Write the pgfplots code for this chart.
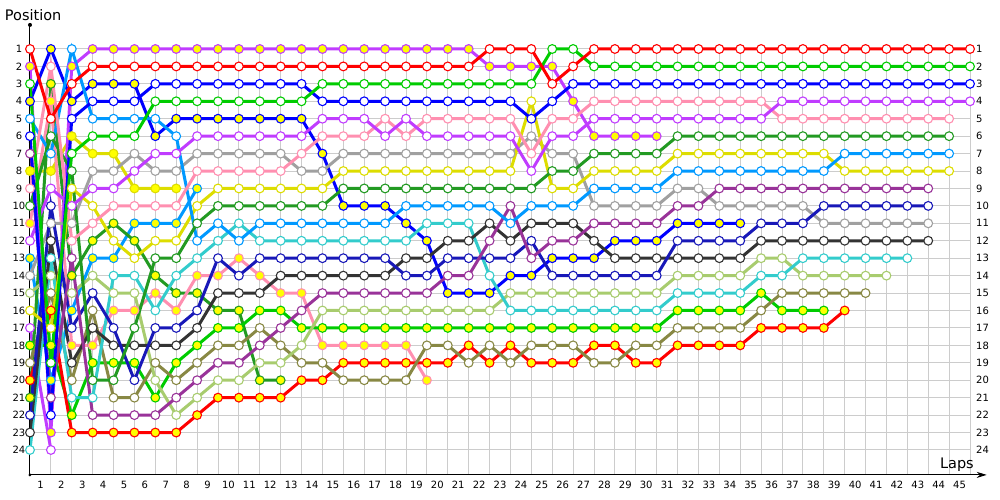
\documentclass[border=0pt]{standalone}
\usepackage{pgfplots}
\pgfplotsset{compat=1.18}
\usepackage{fontspec}
\setmainfont{DejaVu Sans}
\usetikzlibrary{arrows.meta}
\definecolor{cR}{HTML}{FF0000}
\definecolor{cG}{HTML}{00CC00}
\definecolor{cB}{HTML}{0000FF}
\definecolor{cV}{HTML}{C03CFF}
\definecolor{cPK}{HTML}{FF8FB0}
\definecolor{cDG}{HTML}{229A22}
\definecolor{cLB}{HTML}{0099FF}
\definecolor{cY}{HTML}{DDDD00}
\definecolor{cPU}{HTML}{993399}
\definecolor{cNV}{HTML}{1818B8}
\definecolor{cGR}{HTML}{A0A0A0}
\definecolor{cBK}{HTML}{333333}
\definecolor{cCY}{HTML}{33CCCC}
\definecolor{cLO}{HTML}{A8CC6E}
\definecolor{cOL}{HTML}{888844}
\definecolor{cYF}{HTML}{FFFF00}
\pgfplotsset{
 drv/.style={color=#1, line width=3pt, mark=*, mark size=4.4pt, mark options={line width=1.1pt, fill=white, solid}},
 drvy/.style={color=#1, line width=3pt, mark=*, mark size=4.4pt, mark options={line width=1.1pt, fill=cYF, solid}},
}
\begin{document}
\begin{tikzpicture}
\begin{axis}[scale only axis,
 width=940pt, height=425.9pt,
 xmin=0, xmax=45, ymin=1, ymax=25.43, y dir=reverse, clip=false,
 axis line style={draw=none}, tick style={draw=none},
 /pgf/number format/assume math mode=true,
 xtick={1,...,45}, ytick={1,...,24},
 grid=major, grid style={color=black!20, line width=1pt},
 xticklabel style={anchor=north, xshift=-10.44pt, yshift=-3pt, font=\fontsize{10}{12}\selectfont},
 yticklabel style={anchor=center, xshift=-11pt, font=\fontsize{10}{12}\selectfont},
]
\path (axis cs:-1.436,-1.81) rectangle (axis cs:46.436,26.867);
% retired early
\addplot[drv=cV] coordinates {(0,17)(1,24)};
\addplot[drvy=cY] coordinates {(0,8)(1,8)(2,6)(3,7)(4,7)(5,9)(6,9)(7,9)};
\addplot[drvy=cLB] coordinates {(0,13)(1,20)(2,16)(3,13)(4,13)(5,11)(6,11)(7,11)(8,9)};
\addplot[drvy=cDG] coordinates {(0,21)(1,3)(2,14)(3,12)(4,11)(5,12)(6,14)(7,15)(8,15)(9,16)(10,16)(11,20)(12,20)};
\addplot[drvy=cPK] coordinates {(0,11)(1,4)(2,18)(3,18)(4,16)(5,16)(6,15)(7,16)(8,14)(9,14)(10,13)(11,14)(12,15)(13,15)(14,18)(15,18)(16,18)(17,18)(18,18)(19,20)};
\addplot[drvy=cV] coordinates {(0,2)(1,23)(2,2)(3,1)(4,1)(5,1)(6,1)(7,1)(8,1)(9,1)(10,1)(11,1)(12,1)(13,1)(14,1)(15,1)(16,1)(17,1)(18,1)(19,1)(20,1)(21,1)(22,2)(23,2)(24,2)(25,2)(26,4)(27,6)(28,6)(29,6)(30,6)};
\addplot[drvy=cB] coordinates {(0,4)(1,1)(2,4)(3,3)(4,3)(5,3)(6,6)(7,5)(8,5)(9,5)(10,5)(11,5)(12,5)(13,5)(14,7)(15,10)(16,10)(17,10)(18,11)(19,12)(20,15)(21,15)(22,15)(23,14)(24,14)(25,13)(26,13)(27,13)(28,12)(29,12)(30,12)(31,11)(32,11)(33,11)(34,11)};
\addplot[drvy=cG] coordinates {(0,18)(1,18)(2,22)(3,19)(4,19)(5,19)(6,21)(7,19)(8,18)(9,17)(10,17)(11,16)(12,16)(13,17)(14,17)(15,17)(16,17)(17,17)(18,17)(19,17)(20,17)(21,17)(22,17)(23,17)(24,17)(25,17)(26,17)(27,17)(28,17)(29,17)(30,17)(31,16)(32,16)(33,16)(34,16)(35,15)(36,16)(37,16)(38,16)};
% finishers
\addplot[drvy=cR] coordinates {(0,20)(1,16)(2,23)(3,23)(4,23)(5,23)(6,23)(7,23)(8,22)(9,21)(10,21)(11,21)(12,21)(13,20)(14,20)(15,19)(16,19)(17,19)(18,19)(19,19)(20,19)(21,18)(22,19)(23,18)(24,19)(25,19)(26,19)(27,18)(28,18)(29,19)(30,19)(31,18)(32,18)(33,18)(34,18)(35,17)(36,17)(37,17)(38,17)(39,16)};
\addplot[drv=cOL] coordinates {(0,19)(1,15)(2,20)(3,16)(4,21)(5,21)(6,19)(7,20)(8,19)(9,18)(10,18)(11,17)(12,18)(13,19)(14,19)(15,20)(16,20)(17,20)(18,20)(19,18)(20,18)(21,19)(22,18)(23,19)(24,18)(25,18)(26,18)(27,19)(28,19)(29,18)(30,18)(31,17)(32,17)(33,17)(34,17)(35,16)(36,15)(37,15)(38,15)(39,15)(40,15)};
\addplot[drv=cLO] coordinates {(0,15)(1,14)(2,15)(3,14)(4,15)(5,15)(6,20)(7,22)(8,21)(9,20)(10,20)(11,19)(12,19)(13,18)(14,16)(15,16)(16,16)(17,16)(18,16)(19,16)(20,16)(21,16)(22,16)(23,15)(24,15)(25,15)(26,15)(27,15)(28,15)(29,15)(30,15)(31,14)(32,14)(33,14)(34,14)(35,13)(36,13)(37,14)(38,14)(39,14)(40,14)(41,14)};
\addplot[drv=cCY] coordinates {(0,24)(1,13)(2,21)(3,21)(4,14)(5,14)(6,16)(7,14)(8,13)(9,12)(10,11)(11,12)(12,12)(13,12)(14,12)(15,12)(16,12)(17,12)(18,12)(19,11)(20,11)(21,11)(22,14)(23,16)(24,16)(25,16)(26,16)(27,16)(28,16)(29,16)(30,16)(31,15)(32,15)(33,15)(34,15)(35,14)(36,14)(37,13)(38,13)(39,13)(40,13)(41,13)(42,13)};
\addplot[drv=cBK] coordinates {(0,23)(1,12)(2,19)(3,17)(4,18)(5,18)(6,18)(7,18)(8,17)(9,15)(10,15)(11,15)(12,14)(13,14)(14,14)(15,14)(16,14)(17,14)(18,13)(19,13)(20,12)(21,12)(22,11)(23,12)(24,11)(25,11)(26,11)(27,12)(28,13)(29,13)(30,13)(31,13)(32,13)(33,13)(34,13)(35,12)(36,12)(37,12)(38,12)(39,12)(40,12)(41,12)(42,12)(43,12)};
\addplot[drv=cGR] coordinates {(0,14)(1,11)(2,11)(3,8)(4,8)(5,7)(6,8)(7,8)(8,7)(9,7)(10,7)(11,7)(12,7)(13,8)(14,8)(15,7)(16,7)(17,7)(18,7)(19,7)(20,7)(21,7)(22,7)(23,7)(24,6)(25,7)(26,7)(27,10)(28,10)(29,10)(30,10)(31,9)(32,9)(33,10)(34,10)(35,10)(36,10)(37,10)(38,11)(39,11)(40,11)(41,11)(42,11)(43,11)};
\addplot[drv=cNV] coordinates {(0,22)(1,10)(2,17)(3,15)(4,17)(5,20)(6,17)(7,17)(8,16)(9,13)(10,14)(11,13)(12,13)(13,13)(14,13)(15,13)(16,13)(17,13)(18,14)(19,14)(20,13)(21,13)(22,13)(23,13)(24,12)(25,14)(26,14)(27,14)(28,14)(29,14)(30,14)(31,12)(32,12)(33,12)(34,12)(35,11)(36,11)(37,11)(38,10)(39,10)(40,10)(41,10)(42,10)(43,10)};
\addplot[drv=cPU] coordinates {(0,7)(1,21)(2,13)(3,22)(4,22)(5,22)(6,22)(7,21)(8,20)(9,19)(10,19)(11,18)(12,17)(13,16)(14,15)(15,15)(16,15)(17,15)(18,15)(19,15)(20,14)(21,14)(22,12)(23,10)(24,13)(25,12)(26,12)(27,11)(28,11)(29,11)(30,11)(31,10)(32,10)(33,9)(34,9)(35,9)(36,9)(37,9)(38,9)(39,9)(40,9)(41,9)(42,9)(43,9)};
\addplot[drv=cY] coordinates {(0,16)(1,17)(2,9)(3,10)(4,12)(5,13)(6,12)(7,12)(8,10)(9,9)(10,9)(11,9)(12,9)(13,9)(14,9)(15,8)(16,8)(17,8)(18,8)(19,8)(20,8)(21,8)(22,8)(23,8)(24,4)(25,9)(26,9)(27,8)(28,8)(29,8)(30,8)(31,7)(32,7)(33,7)(34,7)(35,7)(36,7)(37,7)(38,7)(39,8)(40,8)(41,8)(42,8)(43,8)(44,8)};
\addplot[drv=cLB] coordinates {(0,5)(1,7)(2,1)(3,5)(4,5)(5,5)(6,5)(7,6)(8,12)(9,11)(10,12)(11,11)(12,11)(13,11)(14,11)(15,11)(16,11)(17,11)(18,10)(19,10)(20,10)(21,10)(22,10)(23,11)(24,10)(25,10)(26,10)(27,9)(28,9)(29,9)(30,9)(31,8)(32,8)(33,8)(34,8)(35,8)(36,8)(37,8)(38,8)(39,7)(40,7)(41,7)(42,7)(43,7)(44,7)};
\addplot[drv=cDG] coordinates {(0,10)(1,6)(2,8)(3,20)(4,20)(5,17)(6,13)(7,13)(8,11)(9,10)(10,10)(11,10)(12,10)(13,10)(14,10)(15,9)(16,9)(17,9)(18,9)(19,9)(20,9)(21,9)(22,9)(23,9)(24,9)(25,8)(26,8)(27,7)(28,7)(29,7)(30,7)(31,6)(32,6)(33,6)(34,6)(35,6)(36,6)(37,6)(38,6)(39,6)(40,6)(41,6)(42,6)(43,6)(44,6)};
\addplot[drv=cPK] coordinates {(0,9)(1,2)(2,12)(3,11)(4,10)(5,10)(6,10)(7,10)(8,8)(9,8)(10,8)(11,8)(12,8)(13,7)(14,6)(15,6)(16,6)(17,5)(18,6)(19,5)(20,5)(21,5)(22,5)(23,5)(24,7)(25,5)(26,5)(27,4)(28,4)(29,4)(30,4)(31,4)(32,4)(33,4)(34,4)(35,4)(36,5)(37,5)(38,5)(39,5)(40,5)(41,5)(42,5)(43,5)(44,5)};
\addplot[drv=cV] coordinates {(0,12)(1,9)(2,10)(3,9)(4,9)(5,8)(6,7)(7,7)(8,6)(9,6)(10,6)(11,6)(12,6)(13,6)(14,5)(15,5)(16,5)(17,6)(18,5)(19,6)(20,6)(21,6)(22,6)(23,6)(24,8)(25,6)(26,6)(27,5)(28,5)(29,5)(30,5)(31,5)(32,5)(33,5)(34,5)(35,5)(36,4)(37,4)(38,4)(39,4)(40,4)(41,4)(42,4)(43,4)(44,4)(45,4)};
\addplot[drv=cB] coordinates {(0,6)(1,22)(2,5)(3,4)(4,4)(5,4)(6,3)(7,3)(8,3)(9,3)(10,3)(11,3)(12,3)(13,3)(14,4)(15,4)(16,4)(17,4)(18,4)(19,4)(20,4)(21,4)(22,4)(23,4)(24,5)(25,4)(26,3)(27,3)(28,3)(29,3)(30,3)(31,3)(32,3)(33,3)(34,3)(35,3)(36,3)(37,3)(38,3)(39,3)(40,3)(41,3)(42,3)(43,3)(44,3)(45,3)};
\addplot[drv=cG] coordinates {(0,3)(1,19)(2,7)(3,6)(4,6)(5,6)(6,4)(7,4)(8,4)(9,4)(10,4)(11,4)(12,4)(13,4)(14,3)(15,3)(16,3)(17,3)(18,3)(19,3)(20,3)(21,3)(22,3)(23,3)(24,3)(25,1)(26,1)(27,2)(28,2)(29,2)(30,2)(31,2)(32,2)(33,2)(34,2)(35,2)(36,2)(37,2)(38,2)(39,2)(40,2)(41,2)(42,2)(43,2)(44,2)(45,2)};
\addplot[drv=cR] coordinates {(0,1)(1,5)(2,3)(3,2)(4,2)(5,2)(6,2)(7,2)(8,2)(9,2)(10,2)(11,2)(12,2)(13,2)(14,2)(15,2)(16,2)(17,2)(18,2)(19,2)(20,2)(21,2)(22,1)(23,1)(24,1)(25,3)(26,2)(27,1)(28,1)(29,1)(30,1)(31,1)(32,1)(33,1)(34,1)(35,1)(36,1)(37,1)(38,1)(39,1)(40,1)(41,1)(42,1)(43,1)(44,1)(45,1)};
% axes
\draw[black, line width=1pt] (axis cs:0,25.43) -- (axis cs:0,-0.38);
\fill[black] (axis cs:0,-0.38) circle (2pt);
\fill[black] (axis cs:0,25.43) circle (1.6pt);
\draw[black, line width=1pt, -{Stealth[length=10pt,width=6pt]}] (axis cs:0,25.43) -- (axis cs:45.8,25.43);
\pgfplotsinvokeforeach{1,...,24}{\node[anchor=west, inner sep=0pt, font=\fontsize{10}{12}\selectfont] at (axis cs:45,#1) [xshift=6pt] {#1};}
\node[anchor=base west, inner sep=0pt, font=\fontsize{14.5}{16}\selectfont] at (axis cs:-1.211,-0.606) {Position};
\node[anchor=base east, inner sep=0pt, font=\fontsize{14.5}{16}\selectfont] at (axis cs:45.19,25.09) {Laps};
\end{axis}
\end{tikzpicture}
\end{document}
